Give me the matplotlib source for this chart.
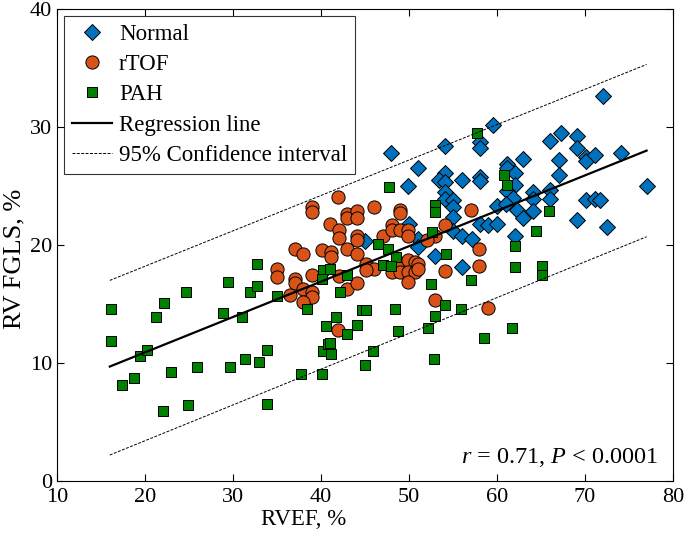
import numpy as np
import matplotlib
matplotlib.use("Agg")
import matplotlib.pyplot as plt

plt.rcParams['font.family'] = ['Liberation Serif', 'DejaVu Serif']
plt.rcParams['mathtext.fontset'] = 'custom'
plt.rcParams['mathtext.rm'] = 'Liberation Serif'
plt.rcParams['mathtext.it'] = 'Liberation Serif:italic'

# Normal (RVEF %, RV FGLS %)
normal_x = [72.05, 59.5, 54.1, 58.1, 58.1, 66.0, 67.3, 69.1, 69.1, 70.1, 70.1, 71.1, 74.1,
            63.0, 67.05, 67.05, 51.0, 47.95, 61.1, 61.1, 62.0, 54.1, 53.4, 54.1, 56.0, 58.1,
            58.1, 49.9, 62.0, 54.1, 54.1, 55.0, 55.0, 61.1, 61.8, 64.1, 64.1, 66.0, 66.0,
            60.0, 61.0, 62.3, 64.1, 63.0, 55.0, 58.1, 59.0, 60.0, 77.05, 70.1, 71.1, 71.7,
            69.1, 72.5, 51.0, 55.0, 56.0, 57.2, 62.0, 53.0, 56.0, 51.0, 45.0, 50.0]
normal_y = [32.6, 30.2, 28.4, 28.7, 28.2, 28.8, 29.5, 29.2, 28.2, 27.5, 27.1, 27.6, 27.8,
            27.3, 27.2, 25.9, 26.5, 27.8, 26.9, 26.5, 26.1, 26.1, 25.5, 25.3, 25.5, 25.8,
            25.4, 25.0, 25.1, 24.5, 23.9, 23.8, 23.2, 24.6, 24.0, 24.5, 23.9, 24.7, 23.9,
            23.3, 23.5, 23.0, 22.9, 22.3, 22.35, 21.8, 21.7, 21.8, 25.0, 23.8, 23.9, 23.8,
            22.1, 21.5, 20.5, 21.2, 20.8, 20.5, 20.8, 19.1, 18.1, 19.8, 20.3, 21.8]

# rTOF
rtof_x = [41.9, 39.0, 39.0, 43.0, 43.0, 44.1, 44.1, 46.0, 49.0, 49.0, 41.0, 42.0, 42.0,
          44.1, 44.1, 48.1, 47.05, 48.1, 49.0, 49.9, 49.9, 37.05, 37.95, 40.1, 41.1, 41.1,
          43.0, 44.1, 45.1, 46.0, 45.1, 49.0, 49.9, 50.7, 48.1, 49.0, 49.9, 50.7, 49.9,
          35.0, 35.0, 37.05, 37.05, 39.0, 37.95, 39.0, 39.0, 37.95, 42.0, 43.0, 44.1, 41.9,
          57.0, 54.1, 53.0, 52.0, 51.0, 51.0, 58.0, 54.1, 58.0, 53.0, 59.0, 36.5]
rtof_y = [24.1, 23.2, 22.8, 22.6, 22.3, 22.9, 22.3, 23.2, 23.0, 22.7, 21.8, 21.3, 20.6,
          20.8, 20.4, 21.7, 20.8, 21.3, 21.3, 21.3, 20.8, 19.7, 19.2, 19.6, 19.4, 19.0,
          19.7, 19.2, 18.4, 18.0, 17.9, 18.5, 18.7, 18.6, 17.7, 17.7, 17.7, 17.7, 16.9,
          18.0, 17.3, 17.1, 16.8, 17.5, 16.3, 16.05, 15.6, 15.2, 17.4, 16.3, 16.8, 12.8,
          23.0, 21.7, 20.8, 20.4, 18.4, 18.0, 19.7, 17.8, 18.2, 15.3, 14.7, 15.8]

# PAH
pah_x = [16.1, 16.1, 19.4, 20.2, 17.4, 18.75, 21.25, 22.2, 24.7, 23.0, 22.05, 24.9, 25.9,
         28.9, 29.4, 31.0, 31.9, 32.7, 32.7, 29.7, 31.4, 33.0, 33.9, 33.9, 35.0, 40.6,
         37.7, 40.1, 40.2, 40.8, 38.4, 40.2, 40.1, 47.7, 46.5, 47.6, 48.5, 47.0, 48.0,
         41.0, 43.0, 42.2, 44.7, 45.1, 48.4, 41.7, 44.1, 43.0, 48.75, 41.0, 41.1, 45.9,
         52.5, 54.1, 53.0, 52.2, 45.0, 52.8, 52.95, 52.95, 52.6, 54.2, 57.7, 60.8, 61.1,
         65.9, 64.4, 62.0, 57.0, 62.0, 65.1, 65.1, 55.9, 61.7, 58.5]
pah_y = [14.6, 11.9, 10.6, 11.1, 8.1, 8.7, 13.9, 15.1, 16.0, 9.2, 5.9, 6.4, 9.7,
         14.2, 16.9, 13.9, 16.05, 16.5, 18.4, 9.7, 10.3, 10.1, 6.5, 11.1, 15.7, 13.1,
         9.1, 9.1, 11.0, 11.6, 14.6, 17.9, 17.1, 24.9, 20.1, 19.7, 19.0, 18.3, 18.2,
         18.0, 17.5, 16.05, 14.5, 14.5, 14.6, 13.9, 13.2, 12.5, 12.7, 11.7, 10.8, 11.0,
         16.7, 14.9, 14.0, 13.0, 9.8, 10.3, 23.4, 22.8, 21.1, 19.2, 29.5, 25.9, 25.1,
         22.9, 21.2, 19.9, 17.0, 18.1, 18.2, 17.5, 14.6, 13.0, 12.1]

# regression line and 95% band (end points)
reg_x = [16, 77]
reg_y = [9.7, 28.0]
ci_upper = [17.0, 35.3]
ci_lower = [2.2, 20.7]

fig = plt.figure(figsize=(6.85, 5.35), dpi=100)
ax = fig.add_axes([57/685, 54/535, 616/685, 472/535])

ax.plot(normal_x, normal_y, 'D', ms=8.3, mfc='#0072BD', mec='k', mew=0.7, label='Normal', zorder=2)
ax.plot(rtof_x, rtof_y, 'o', ms=9.5, mfc='#D95319', mec='k', mew=0.7, label='rTOF', zorder=3)
ax.plot(pah_x, pah_y, 's', ms=7.8, mfc='#008000', mec='k', mew=0.7, label='PAH', zorder=4)
ax.plot(reg_x, reg_y, 'k-', lw=1.6, label='Regression line', zorder=5)
ax.plot(reg_x, ci_upper, 'k--', lw=0.7, dashes=(3, 1.5), label='95% Confidence interval', zorder=5)
ax.plot(reg_x, ci_lower, 'k--', lw=0.7, dashes=(3, 1.5), zorder=5)

ax.set_xlim(10, 80)
ax.set_ylim(0, 40)
ax.set_xticks(range(10, 81, 10))
ax.set_yticks(range(0, 41, 10))
ax.tick_params(direction='in', top=True, right=True, labelsize=16, length=5)
ax.tick_params(axis='x', pad=5)
ax.set_xlabel('RVEF, %', fontsize=16.5)
ax.set_ylabel('RV FGLS, %', fontsize=19)
ax.xaxis.set_label_coords(0.40, -0.06)
ax.yaxis.set_label_coords(-0.052, 0.47)

leg = ax.legend(loc='upper left', fontsize=16.5, frameon=True, fancybox=False,
                edgecolor='k', borderaxespad=0.3, handlelength=1.75,
                handletextpad=0.3, labelspacing=0.4, borderpad=0.35)
leg.get_frame().set_linewidth(0.8)

ax.text(0.976, 0.025, r'$r$ = 0.71, $P$ < 0.0001', transform=ax.transAxes,
        ha='right', va='bottom', fontsize=17.5)

fig.savefig('out.png', dpi=100)
